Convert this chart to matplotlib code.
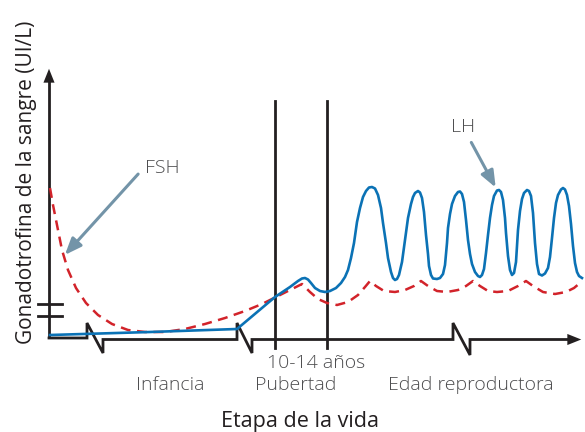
import matplotlib.pyplot as plt

# schematic units: x = position along life stages, y = hormone level above baseline
fsh_x = [50, 53, 57, 62, 68, 76, 86, 98, 112, 128, 145, 165, 185, 205, 225, 245, 262,
         276, 290, 302, 310, 318, 327, 337, 348, 358, 365, 370, 376, 384, 395, 405, 414,
         421, 428, 437, 447, 458, 466, 473, 480, 488, 497, 508, 518, 526, 533, 543, 555,
         566, 574, 580]
fsh_y = [150, 133, 113, 88, 68, 50, 35, 23, 14, 8, 6, 6, 9, 14, 20, 27, 34,
         41, 48, 54, 46, 39, 35, 33, 36, 43, 51, 57, 52, 47, 46, 48, 52,
         57, 52, 47, 46, 48, 52, 57, 52, 47, 46, 47, 52, 57, 52, 46, 44,
         46, 50, 55]

lh_points = [
    (50, 3), (150, 6), (237, 9), (256, 25), (275, 41), (290, 51), (298, 57), (302, 59.5),
    (305, 60), (308, 58.5), (311, 55), (315, 50), (320, 47), (325, 46), (330, 47),
    (336, 50), (341, 55), (345, 61), (348, 68), (351, 80), (354, 95), (357, 116),
    (360, 130), (363, 141), (366, 147), (369, 150.5), (372, 151), (375, 149.5),
    (378, 143), (381, 130), (383, 115), (386, 95), (388, 80), (391, 66), (393, 60),
    (395, 58), (397, 59), (399, 63), (402, 76), (405, 98), (408, 120), (411, 134),
    (413, 141), (415, 145), (418, 147), (420, 145.5), (422, 140), (424, 126),
    (426, 103), (428, 84), (429, 72), (431, 63), (433, 59.5), (437, 59), (440, 60),
    (443, 64), (445, 73), (447, 95), (448, 110), (450, 124), (452, 134), (455, 142),
    (458, 146), (460, 146.5), (462, 144), (464, 136), (466, 118), (468, 98), (470, 84),
    (472, 74), (475, 66), (478, 62), (480, 61), (482, 63), (484, 69), (486, 85),
    (488, 103), (490, 120), (492, 133), (494, 142), (497, 147.5), (499, 148), (501, 146),
    (503, 138), (505, 120), (506, 105), (508, 82), (510, 68), (512, 63), (514, 65),
    (516, 76), (518, 108), (520, 127), (522, 139), (524, 145), (527, 148), (529, 147),
    (531, 142), (533, 125), (535, 95), (537, 74), (539, 64), (542, 62.5), (545, 64.5),
    (548, 70), (550, 81), (552, 100), (554, 120), (556, 135), (558, 143), (561, 148.5),
    (563, 150), (565, 148.5), (567, 143), (569, 132), (571, 114), (573, 92), (575, 75),
    (577, 66), (579, 62), (582, 60),
]
lh_x, lh_y = zip(*lh_points)

stage_labels = ['Infancia', 'Pubertad', 'Edad reproductora']
stage_x = [170, 296, 471]
puberty_bounds = [275, 327]

AX = '#231f20'
TXT = '#4d4d4f'
ARROW = '#7394a8'
HEAD = '-|>,head_width=0.4,head_length=1.0'

plt.rcParams['font.family'] = ['Open Sans', 'DejaVu Sans']
fig = plt.figure(figsize=(5.85, 4.32), dpi=100)
ax = fig.add_axes([0, 0, 1, 1])
ax.set_xlim(0, 585)
ax.set_ylim(-94, 338)
ax.axis('off')

# y axis with arrow and break ticks
ax.plot([49, 49], [0, 262], color=AX, lw=2, solid_capstyle='butt')
ax.annotate('', xy=(49, 272), xytext=(49, 255),
            arrowprops=dict(arrowstyle=HEAD, color=AX, lw=0))
for yb in [22, 34]:
    ax.plot([38, 62], [yb, yb], color=AX, lw=2)

# x axis with break zigzags
ax.plot([49, 87, 87, 103, 103, 237, 237, 252, 252, 453, 453, 470, 470, 570],
        [0, 0, 15, -15, -1.5, -1.5, 15, -15, -1.5, -1.5, 15, -17, -1.5, -1.5],
        color=AX, lw=2, solid_joinstyle='miter')
ax.annotate('', xy=(584, -1.5), xytext=(565, -1.5),
            arrowprops=dict(arrowstyle=HEAD, color=AX, lw=0))

for xv in puberty_bounds:
    ax.plot([xv, xv], [-10, 237], color=AX, lw=2)

ax.plot(fsh_x, fsh_y, color='#d2232a', lw=1.8, dashes=(4, 2.6))
ax.plot(lh_x, lh_y, color='#0b72b5', lw=1.9, solid_joinstyle='round')

ax.annotate('', xy=(63, 81), xytext=(140, 166),
            arrowprops=dict(arrowstyle=HEAD, color=ARROW, lw=2.2))
ax.text(145, 170, 'FSH', fontsize=14, color=TXT, va='center', ha='left', fontweight='light')
ax.annotate('', xy=(497, 148), xytext=(470, 198),
            arrowprops=dict(arrowstyle=HEAD, color=ARROW, lw=2.2))
ax.text(451, 211, 'LH', fontsize=14, color=TXT, va='center', ha='left', fontweight='light')

ax.text(316, -25, '10-14 años', fontsize=14, color=TXT, ha='center', va='center',
        fontweight='light')
for lbl, xs in zip(stage_labels, stage_x):
    ax.text(xs, -47, lbl, fontsize=14, color=TXT, ha='center', va='center',
            fontweight='light')
ax.text(300, -84, 'Etapa de la vida', fontsize=15.5, color=AX, ha='center', va='center')
ax.text(27, 156, 'Gonadotrofina de la sangre (UI/L)', fontsize=15, color=AX,
        ha='center', va='center', rotation=90)

fig.savefig('out.png', dpi=100)
